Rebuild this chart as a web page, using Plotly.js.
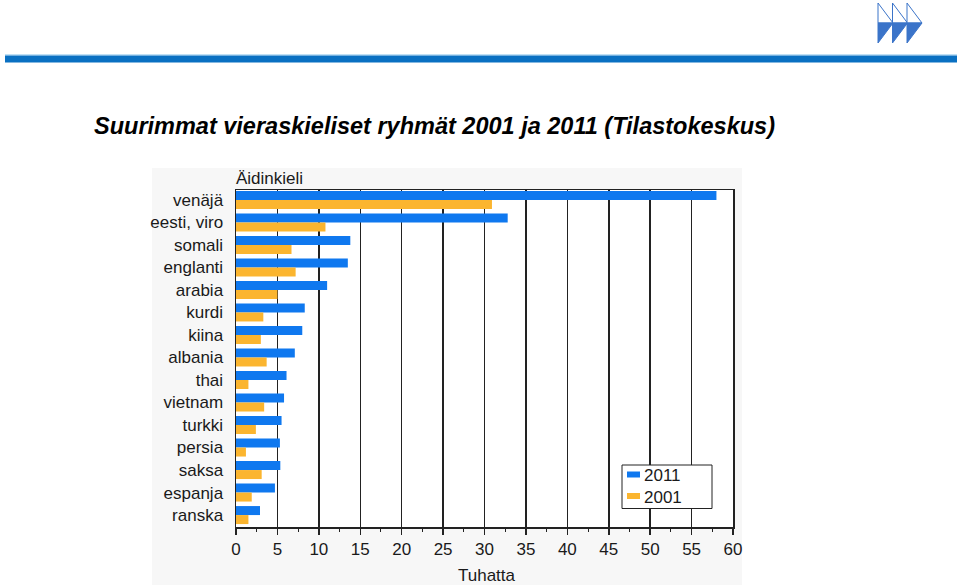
<!DOCTYPE html>
<html>
<head>
<meta charset="utf-8">
<script src="https://cdn.plot.ly/plotly-3.0.1.min.js"></script>
<style>html,body{margin:0;padding:0;background:#fff;}#chart{width:960px;height:585px;}</style>
</head>
<body>
<div id="chart"></div>
<script>
const categories = ['venäjä','eesti, viro','somali','englanti','arabia','kurdi','kiina','albania','thai','vietnam','turkki','persia','saksa','espanja','ranska'];
const values2011 = [58.0, 32.8, 13.8, 13.5, 11.0, 8.3, 8.0, 7.1, 6.1, 5.8, 5.5, 5.3, 5.35, 4.7, 2.9];
const values2001 = [30.9, 10.8, 6.7, 7.2, 5.0, 3.3, 3.0, 3.7, 1.5, 3.4, 2.4, 1.2, 3.1, 1.9, 1.5];
const seriesNames = ['2011', '2001'];
const xTicks = [0,5,10,15,20,25,30,35,40,45,50,55,60];
const titleText = 'Suurimmat vieraskieliset ryhmät 2001 ja 2011 (Tilastokeskus)';
const yAxisTitle = 'Äidinkieli';
const xAxisTitle = 'Tuhatta';

const BLUE = '#0f78ef', ORANGE = '#fbb52f';
const M = {l:236, r:227, t:190, b:58};
const PW = 960 - M.l - M.r, PH = 585 - M.t - M.b;
const px = x => (x - M.l) / PW;
const py = y => (585 - M.b - y) / PH;
const FONT = 'Liberation Sans, Arial, sans-serif';
const PANEL = '#f7f7f7';

const shapes = [];
// grey chart panel drawn as a frame around the white plot area
const panelRect = (a, b, c, d) => ({type:'rect', xref:'paper', yref:'paper', x0:px(a), x1:px(b), y0:py(d), y1:py(c), fillcolor:PANEL, line:{width:0}, layer:'below'});
shapes.push(panelRect(152, 236, 168, 585));
shapes.push(panelRect(733, 742, 168, 585));
shapes.push(panelRect(236, 733, 168, 190));
shapes.push(panelRect(236, 733, 527, 585));
// header blue rule
shapes.push({type:'rect', xref:'paper', yref:'paper', x0:px(5), x1:px(957), y0:py(54), y1:py(55.5), fillcolor:'#bfe0f5', line:{width:0}});
shapes.push({type:'rect', xref:'paper', yref:'paper', x0:px(5), x1:px(957), y0:py(55.5), y1:py(62.5), fillcolor:'#0a70c2', line:{width:0}});
// logo
[878, 892.5, 907].forEach(x0 => {
  const tip = x0 + 15, yt = 3, ym = 23, yb = 43;
  shapes.push({type:'path', xref:'paper', yref:'paper',
    path:`M${px(x0)},${py(yt)} L${px(tip)},${py(ym)} L${px(x0)},${py(ym)} Z`,
    fillcolor:'#ffffff', line:{color:'#3b74c9', width:1}});
  shapes.push({type:'path', xref:'paper', yref:'paper',
    path:`M${px(x0)},${py(ym)} L${px(tip)},${py(ym)} L${px(x0)},${py(yb)} Z`,
    fillcolor:'#3b74c9', line:{color:'#3b74c9', width:1}});
});
// legend box
shapes.push({type:'rect', xref:'paper', yref:'paper', x0:px(622), x1:px(712), y0:py(465), y1:py(508.5), fillcolor:'#ffffff', line:{color:'#222', width:1}});
shapes.push({type:'rect', xref:'paper', yref:'paper', x0:px(627), x1:px(640), y0:py(471.5), y1:py(477.5), fillcolor:BLUE, line:{width:0}});
shapes.push({type:'rect', xref:'paper', yref:'paper', x0:px(627), x1:px(640), y0:py(493), y1:py(499), fillcolor:ORANGE, line:{width:0}});

const annotations = [
  {text:'<b><i>'+titleText+'</i></b>', xref:'paper', yref:'paper', x:px(92), y:py(126), xanchor:'left', yanchor:'middle', showarrow:false, font:{family:FONT, size:23.5, color:'#000'}},
  {text:yAxisTitle, xref:'paper', yref:'paper', x:px(234), y:py(178), xanchor:'left', yanchor:'middle', showarrow:false, font:{family:FONT, size:17, color:'#1a1a1a'}},
  {text:xAxisTitle, xref:'paper', yref:'paper', x:px(456), y:py(575), xanchor:'left', yanchor:'middle', showarrow:false, font:{family:FONT, size:17, color:'#1a1a1a'}},
  {text:seriesNames[0], xref:'paper', yref:'paper', x:px(642), y:py(475), xanchor:'left', yanchor:'middle', showarrow:false, font:{family:FONT, size:17, color:'#1a1a1a'}},
  {text:seriesNames[1], xref:'paper', yref:'paper', x:px(642), y:py(497), xanchor:'left', yanchor:'middle', showarrow:false, font:{family:FONT, size:17, color:'#1a1a1a'}}
];

const data = [
  {type:'bar', orientation:'h', name:seriesNames[0], y:categories, x:values2011, marker:{color:BLUE}, hoverinfo:'skip'},
  {type:'bar', orientation:'h', name:seriesNames[1], y:categories, x:values2001, marker:{color:ORANGE}, hoverinfo:'skip'}
];

const layout = {
  width:960, height:585,
  margin:M,
  paper_bgcolor:'#ffffff', plot_bgcolor:'#ffffff',
  barmode:'group', bargap:0.2, bargroupgap:0,
  showlegend:false,
  font:{family:FONT, size:17, color:'#1a1a1a'},
  xaxis:{range:[0,60], tickvals:xTicks, ticktext:xTicks.map(String), showgrid:true, gridcolor:'#222', gridwidth:1.5,
    zeroline:false, showline:true, linecolor:'#222', linewidth:1.5, mirror:true,
    ticks:'outside', ticklen:6, tickcolor:'#222', tickwidth:1.5,
    minor:{dtick:2.5, tick0:0, ticks:'outside', ticklen:3, tickcolor:'#222', tickwidth:1, showgrid:false},
    tickfont:{family:FONT, size:17, color:'#1a1a1a'}, fixedrange:true},
  yaxis:{type:'category', range:[14.53,-0.44], showgrid:false, zeroline:false, showline:true, linecolor:'#222', linewidth:1.5, mirror:true,
    ticks:'', ticklabelstandoff:8, tickfont:{family:FONT, size:17, color:'#1a1a1a'}, fixedrange:true},
  shapes:shapes, annotations:annotations
};

Plotly.newPlot('chart', data, layout, {displayModeBar:false, staticPlot:true});
</script>
</body>
</html>
